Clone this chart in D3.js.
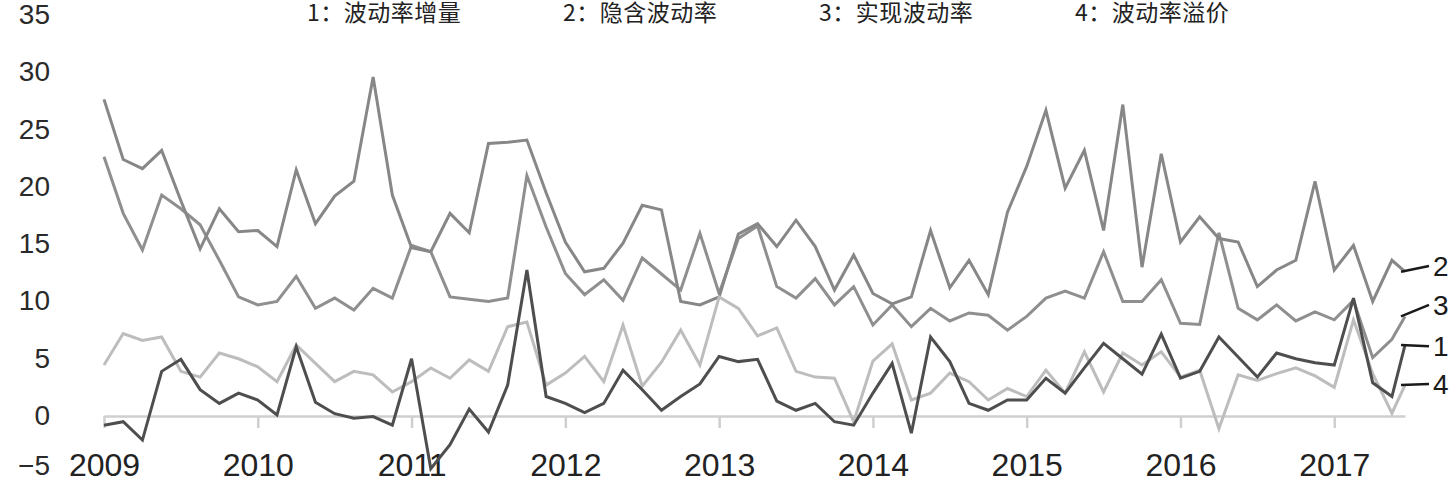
<!DOCTYPE html>
<html>
<head>
<meta charset="utf-8">
<script src="https://cdn.jsdelivr.net/npm/d3@7"></script>
<style>
    body { margin: 0; background: #fff; }
    svg { display: block; }
</style>
</head>
<body>
<div id="chart"></div>
<script>
// series are sampled 8 times a year from Jan 2009, the last point sits mid-2017
const years = [2009, 2010, 2011, 2012, 2013, 2014, 2015, 2016, 2017];
const yTicks = [-5, 0, 5, 10, 15, 20, 25, 30, 35];
const legendNames = ['1：波动率增量', '2：隐含波动率', '3：实现波动率', '4：波动率溢价'];
const endLabels = ['1', '2', '3', '4'];

// 1: 波动率增量
const volIncrement = [
    -0.8, -0.5, -2.1, 3.9, 4.95, 2.3, 1.1, 2.0, 1.4, 0.1,
    6.05, 1.2, 0.2, -0.2, -0.05, -0.8, 5.0, -4.6, -2.5, 0.6,
    -1.4, 2.7, 12.75, 1.7, 1.1, 0.3, 1.1, 4.0, 2.3, 0.5,
    1.7, 2.8, 5.2, 4.75, 4.95, 1.3, 0.5, 1.1, -0.5, -0.8,
    2.0, 4.6, -1.5, 6.9, 4.75, 1.1, 0.5, 1.4, 1.4, 3.3,
    2.0, 4.2, 6.35, 5.0, 3.65, 7.15, 3.3, 3.9, 6.9, 5.15,
    3.4, 5.5, 5.0, 4.65, 4.45, 10.3, 2.9, 1.7, 6.2
];
// 2: 隐含波动率
const impliedVol = [
    27.65, 22.4, 21.6, 23.2, 18.8, 14.6, 18.1, 16.1, 16.2, 14.8,
    21.5, 16.8, 19.2, 20.5, 29.6, 19.3, 14.7, 14.35, 17.7, 16.0,
    23.8, 23.9, 24.1, 19.5, 15.2, 12.6, 12.9, 15.1, 18.4, 18.0,
    10.0, 9.7, 10.4, 15.9, 16.8, 14.8, 17.1, 14.8, 11.0, 14.06,
    10.7, 9.8, 10.4, 16.2, 11.2, 13.6, 10.6, 17.8, 21.8, 26.7,
    19.9, 23.2, 16.2, 27.2, 13.0, 22.9, 15.2, 17.4, 15.5, 15.2,
    11.3, 12.75, 13.6, 20.5, 12.75, 14.9, 10.0, 13.6, 12.6
];
// 3: 实现波动率
const realizedVol = [
    22.65, 17.7, 14.5, 19.3, 18.1, 16.7, 13.6, 10.4, 9.7, 10.0,
    12.2, 9.4, 10.3, 9.25, 11.15, 10.3, 14.9, 14.35, 10.4, 10.2,
    10.0, 10.3, 21.0, 16.5, 12.45, 10.6, 11.9, 10.1, 13.8, 12.4,
    11.0, 15.95, 10.7, 15.5, 16.6, 11.3, 10.3, 12.0, 9.7, 11.3,
    7.95, 9.7, 7.8, 9.4, 8.3, 9.0, 8.8, 7.5, 8.7, 10.3,
    10.9, 10.3, 14.35, 10.0, 10.0, 11.9, 8.1, 8.0, 16.0, 9.4,
    8.4, 9.7, 8.3, 9.1, 8.4, 10.1, 5.1, 6.7, 8.7
];
// 4: 波动率溢价
const volPremium = [
    4.45, 7.2, 6.6, 6.9, 3.9, 3.4, 5.5, 5.0, 4.3, 3.0,
    6.2, 4.6, 3.0, 3.9, 3.6, 2.1, 3.0, 4.2, 3.3, 4.9,
    3.9, 7.8, 8.2, 2.7, 3.75, 5.2, 3.0, 7.95, 2.6, 4.7,
    7.5, 4.45, 10.4, 9.4, 7.0, 7.7, 3.9, 3.4, 3.3, -0.5,
    4.8, 6.3, 1.4, 2.0, 3.75, 3.0, 1.4, 2.4, 1.7, 4.0,
    2.0, 5.6, 2.1, 5.5, 4.45, 5.6, 3.4, 4.0, -1.1, 3.6,
    3.1, 3.7, 4.2, 3.5, 2.5, 8.4, 3.7, 0.25, 2.7
];

const perYear = 8;
const lastT = 2017.46;

(() => {
    const W = 1456, H = 488;
    const times = volIncrement.map((d, i) => i < volIncrement.length - 1 ? 2009 + i / perYear : lastT);

    const svg = d3.select('#chart')
        .append('svg')
        .attr('width', W)
        .attr('height', H);

    const x = d3.scaleLinear().domain([2009, lastT]).range([104, 1405]);
    const y = d3.scaleLinear().domain([-5, 35]).range([473.25, 15.25]);

    // x axis sits on the zero line
    const xAxis = svg.append('g')
        .attr('transform', 'translate(0,' + y(0) + ')')
        .call(d3.axisBottom(x)
            .tickValues(years)
            .tickFormat(d3.format('d'))
            .tickSize(12)
            .tickSizeOuter(0)
            .tickPadding(25));
    xAxis.select('.domain').attr('stroke', '#cfcfcf').attr('stroke-width', 2.5);
    xAxis.selectAll('.tick line').attr('stroke', '#cfcfcf').attr('stroke-width', 2.5);
    xAxis.selectAll('.tick text')
        .attr('fill', '#222')
        .style('font', '32px "Liberation Sans", Arial, sans-serif');

    // y labels only, no axis line
    const yAxis = svg.append('g')
        .attr('transform', 'translate(50,0)')
        .call(d3.axisLeft(y).tickValues(yTicks).tickSize(0).tickPadding(0).tickFormat(d => d < 0 ? '−' + (-d) : d));
    yAxis.select('.domain').remove();
    yAxis.selectAll('.tick')
        .attr('transform', d => 'translate(0,' + Math.min(y(d), H - 22) + ')');
    yAxis.selectAll('.tick text')
        .attr('fill', '#2a2a2a')
        .style('font', '28px "Liberation Sans", Arial, sans-serif');

    const series = [
        { name: 'realized', values: realizedVol, color: '#8f8f8f', label: 2 },
        { name: 'implied', values: impliedVol, color: '#878787', label: 1 },
        { name: 'premium', values: volPremium, color: '#bdbdbd', label: 3 },
        { name: 'increment', values: volIncrement, color: '#4e4e4e', label: 0 }
    ];

    const line = d3.line()
        .x((d, i) => x(times[i]))
        .y(d => y(d));

    svg.selectAll('.series')
        .data(series)
        .enter()
        .append('path')
        .attr('class', 'series')
        .attr('d', d => line(d.values))
        .attr('fill', 'none')
        .attr('stroke', d => d.color)
        .attr('stroke-width', 3);

    // end labels with leader lines (label heights in value units)
    const labelAt = [6.1, 13.1, 9.7, 2.8];
    series.forEach(s => {
        let last = s.values[s.values.length - 1];
        svg.append('line')
            .attr('x1', x(lastT) - 4)
            .attr('y1', y(last))
            .attr('x2', 1429)
            .attr('y2', y(labelAt[s.label]))
            .attr('stroke', '#1a1a1a')
            .attr('stroke-width', 2.5);
        svg.append('text')
            .attr('x', 1433)
            .attr('y', y(labelAt[s.label]))
            .attr('dy', '0.35em')
            .attr('fill', '#1a1a1a')
            .style('font', '28px "Liberation Sans", Arial, sans-serif')
            .text(endLabels[s.label]);
    });

    // legend across the top
    svg.selectAll('.legend')
        .data(legendNames)
        .enter()
        .append('text')
        .attr('class', 'legend')
        .attr('x', (d, i) => 307 + i * 256)
        .attr('y', 13)
        .attr('dy', '0.36em')
        .attr('fill', '#222')
        .attr('letter-spacing', 0.5)
        .style('font', '23px "Noto Sans CJK SC", sans-serif')
        .text(d => d);
})();
</script>
</body>
</html>
